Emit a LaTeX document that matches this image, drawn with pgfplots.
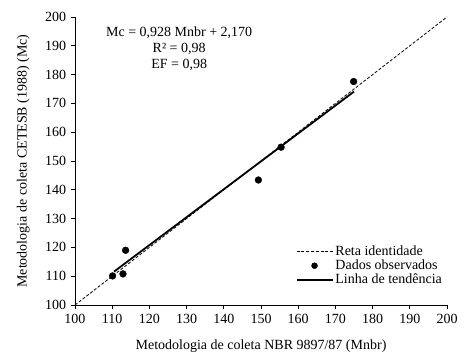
\documentclass[border=0pt]{standalone}
\usepackage{fontspec}
\setmainfont{Liberation Serif}
\usepackage{pgfplots}
\pgfplotsset{compat=1.18}
\begin{document}
\fontsize{14}{16}\selectfont
\begin{tikzpicture}
\path[use as bounding box] (-75pt,-49pt) rectangle (399pt,305pt);
\begin{axis}[
  at={(0,0)}, anchor=south west,
  scale only axis, width=372pt, height=288pt,
  xmin=100, xmax=200, ymin=100, ymax=200,
  xtick={100,110,...,200}, ytick={100,110,...,200},
  axis x line*=bottom, axis y line*=left,
  axis line style={-, black, line width=0.7pt},
  tick align=outside, tick style={black, line width=0.7pt},
  major tick length=4pt,
  /pgf/number format/assume math mode=true,
  ticklabel style={font=\fontsize{14}{16}\selectfont},
  label style={font=\fontsize{14}{16}\selectfont},
  xticklabel style={yshift=0pt},
  xlabel={Metodologia de coleta NBR 9897/87 (Mnbr)},
  ylabel={Metodologia de coleta CETESB (1988) (Mc)},
  xlabel style={yshift=-7pt},
  ylabel style={yshift=6pt},
  legend style={at={(0.995,0.055)}, anchor=south east, draw=none, fill=none,
    font=\fontsize{14}{15}\selectfont, row sep=-1.5pt, inner sep=1pt},
  legend cell align=left,
  legend image code/.code={\draw[#1] (0pt,0pt) -- (36pt,0pt);},
  clip=false,
]
\addplot[black, dash pattern=on 3pt off 1.8pt, line width=0.8pt] coordinates {(100,100) (200,200)};
\addlegendentry{Reta identidade}
\addplot[only marks, mark=*, mark size=3.4pt, black,
  legend image code/.code={\fill[black] (18pt,0pt) circle (3pt);}]
  coordinates {(110.1,110.1) (112.9,110.8) (113.6,119.0) (149.3,143.4) (155.4,154.8) (174.9,177.6)};
\addlegendentry{Dados observados}
\addplot[black, line width=1.8pt] coordinates {(110.5,111.6) (175,174.1)};
\addlegendentry{Linha de tendência}
\node[align=center, font=\fontsize{14}{16}\selectfont] at (axis cs:128,189) {Mc = 0,928 Mnbr + 2,170\\R² = 0,98\\EF = 0,98};
\end{axis}
\end{tikzpicture}
\end{document}
